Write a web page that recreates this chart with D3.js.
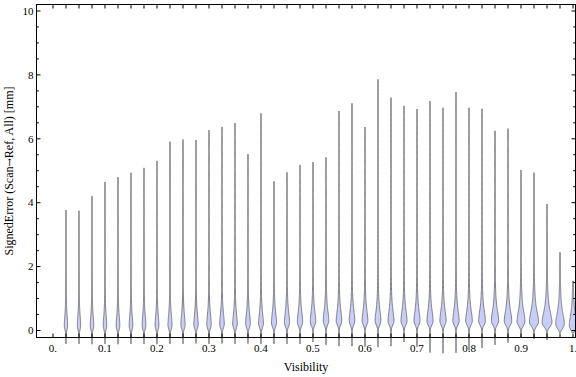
<!DOCTYPE html>
<html>
<head>
<meta charset="utf-8">
<script src="https://cdn.jsdelivr.net/npm/d3@7"></script>
<style>
  body { margin: 0; background: #fff; }
  svg { display: block; font-family: "Liberation Serif", "Times New Roman", serif; }
</style>
</head>
<body>
<svg id="chart" width="576" height="377"></svg>
<script>
'use strict';

// one violin per visibility bin
var visibility = [0.025, 0.05, 0.075, 0.1, 0.125, 0.15, 0.175, 0.2, 0.225, 0.25,
  0.275, 0.3, 0.325, 0.35, 0.375, 0.4, 0.425, 0.45, 0.475, 0.5,
  0.525, 0.55, 0.575, 0.6, 0.625, 0.65, 0.675, 0.7, 0.725, 0.75,
  0.775, 0.8, 0.825, 0.85, 0.875, 0.9, 0.925, 0.95, 0.975, 1.0];

var maxError = [3.77, 3.75, 4.21, 4.65, 4.80, 4.94, 5.09, 5.31, 5.91, 5.98,
  5.96, 6.27, 6.37, 6.49, 5.52, 6.80, 4.67, 4.95, 5.18, 5.27,
  5.42, 6.87, 7.11, 6.37, 7.86, 7.29, 7.03, 6.93, 7.18, 6.97,
  7.46, 6.97, 6.94, 6.25, 6.32, 5.02, 4.94, 3.96, 2.44, 1.55];

var minError = [-0.42, -0.42, -0.43, -0.42, -0.43, -0.42, -0.42, -0.43, -0.42, -0.42,
  -0.41, -0.42, -0.41, -0.42, -0.41, -0.42, -0.42, -0.42, -0.42, -0.36,
  -0.45, -0.49, -0.49, -0.51, -0.52, -0.49, -0.36, -0.51, -0.69, -0.71,
  -0.70, -0.62, -0.55, -0.45, -0.38, -0.23, -0.27, -0.30, -0.07, -0.07];

// where each violin is widest
var modeError = [0.15, 0.15, 0.15, 0.15, 0.15, 0.15, 0.16, 0.16, 0.17, 0.18,
  0.18, 0.19, 0.2, 0.2, 0.21, 0.22, 0.24, 0.25, 0.27, 0.28,
  0.3, 0.3, 0.3, 0.3, 0.3, 0.3, 0.3, 0.3, 0.3, 0.3,
  0.3, 0.3, 0.3, 0.3, 0.29, 0.28, 0.27, 0.25, 0.2, 0.15];

// relative density at the mode
var peakDensity = [0.28, 0.28, 0.29, 0.29, 0.30, 0.30, 0.31, 0.32, 0.34, 0.35,
  0.36, 0.37, 0.38, 0.38, 0.39, 0.40, 0.42, 0.43, 0.44, 0.45,
  0.46, 0.46, 0.47, 0.48, 0.48, 0.49, 0.50, 0.50, 0.51, 0.52,
  0.53, 0.55, 0.56, 0.60, 0.62, 0.66, 0.76, 0.82, 0.72, 0.62];

var xTickValues = [0, 0.1, 0.2, 0.3, 0.4, 0.5, 0.6, 0.7, 0.8, 0.9, 1.0];
var xTickLabels = ['0.', '0.1', '0.2', '0.3', '0.4', '0.5', '0.6', '0.7', '0.8', '0.9', '1.'];
var yTickValues = [0, 2, 4, 6, 8, 10];

var plotL = 36.5, plotR = 575.5, plotT = 4.5, plotB = 337.5;

var x = d3.scaleLinear().domain([-0.0317, 1.0048]).range([plotL, plotR]);
var y = d3.scaleLinear().domain([-0.219, 10.203]).range([plotB, plotT]);
var w = d3.scaleLinear().domain([0, 1]).range([0, 6]);

var svg = d3.select('#chart');

function halfWidth(i, v){
  var p = modeError[i];
  var z, f;
  if(v >= p){
    z = (v - p) / 0.38;
    f = 1 / (1 + z * z / 1.5);
  } else {
    z = (v - p) / 0.13;
    f = Math.exp(-z * z / 2);
  }
  return w(peakDensity[i]) * f;
}

var area = d3.area()
  .x0(function(d){ return x(d.c) - d.h; })
  .x1(function(d){ return x(d.c) + d.h; })
  .y(function(d){ return y(d.v); });

var violins = svg.append('g').attr('class', 'violins');

visibility.forEach(function(c, i){
  var n = 200;
  var pts = d3.range(n + 1).map(function(k){
    var v = minError[i] + (maxError[i] - minError[i]) * k / n;
    return {c: c, v: v, h: halfWidth(i, v)};
  });
  violins.append('path')
    .datum(pts)
    .attr('d', area)
    .attr('fill', '#c8cef5')
    .attr('stroke', '#4d4d4d')
    .attr('stroke-opacity', 0.75)
    .attr('stroke-width', 0.9)
    .attr('stroke-linejoin', 'round');
});

// frame and ticks
var xMinor = d3.range(0, 1.0001, 0.025);
var yMinor = d3.range(0, 10.001, 0.5);

var frame = svg.append('g').attr('class', 'frame');

frame.append('rect')
  .attr('x', plotL).attr('y', plotT)
  .attr('width', plotR - plotL).attr('height', plotB - plotT)
  .attr('fill', 'none').attr('stroke', '#000').attr('stroke-width', 1);

function hTicks(yPos, dir){
  frame.selectAll(null)
    .data(xMinor)
    .enter().append('line')
    .attr('x1', function(d){ return x(d); })
    .attr('x2', function(d){ return x(d); })
    .attr('y1', yPos)
    .attr('y2', yPos + dir * 4)
    .attr('stroke', '#000');
}
hTicks(plotB, -1);
hTicks(plotT, 1);

function vTicks(xPos, dir){
  frame.selectAll(null)
    .data(yMinor)
    .enter().append('line')
    .attr('y1', function(d){ return y(d); })
    .attr('y2', function(d){ return y(d); })
    .attr('x1', xPos)
    .attr('x2', function(d){ return xPos + dir * (d % 2 === 0 ? 4 : 2.3); })
    .attr('stroke', '#000');
}
vTicks(plotL, 1);
vTicks(plotR, -1);

// tick labels
svg.append('g')
  .selectAll('text')
  .data(xTickValues)
  .enter().append('text')
  .attr('x', function(d){ return x(d); })
  .attr('y', 351.5)
  .attr('text-anchor', 'middle')
  .attr('font-size', 11)
  .text(function(d, i){ return xTickLabels[i]; });

svg.append('g')
  .selectAll('text')
  .data(yTickValues)
  .enter().append('text')
  .attr('x', 33.5)
  .attr('y', function(d){ return y(d); })
  .attr('dy', '0.34em')
  .attr('text-anchor', 'end')
  .attr('font-size', 11)
  .text(function(d){ return d; });

// axis titles
svg.append('text')
  .attr('x', (plotL + plotR) / 2)
  .attr('y', 371)
  .attr('text-anchor', 'middle')
  .attr('font-size', 12)
  .text('Visibility');

var yTitle = svg.append('text')
  .attr('transform', 'translate(12.5,' + ((plotT + plotB) / 2) + ') rotate(-90)')
  .attr('text-anchor', 'middle')
  .attr('font-size', 12);
yTitle.append('tspan').text('SignedError (Scan');
yTitle.append('tspan').attr('font-family', 'DejaVu Serif').attr('font-size', 10).text('\u2192');
yTitle.append('tspan').text('Ref, All) [mm]');
</script>
</body>
</html>
